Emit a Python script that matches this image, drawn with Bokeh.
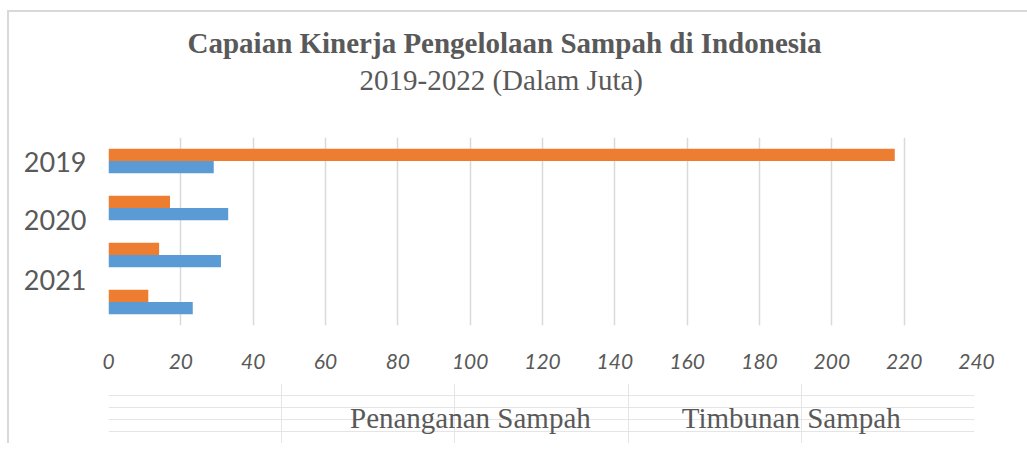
from bokeh.plotting import figure
from bokeh.layouts import column
from bokeh.models import (Range1d, FixedTicker, ColumnDataSource, Legend, LegendItem, Title)
from bokeh.embed import file_html
from bokeh.resources import INLINE
import numpy as np

# ---- data ----
years = ["2019", "2020", "2021", "2022"]
penanganan = [217.4, 17.0, 14.0, 11.0]   # Penanganan Sampah (juta)
timbunan = [29.1, 33.1, 31.1, 23.3]      # Timbunan Sampah (juta)
series_names = ["Penanganan Sampah", "Timbunan Sampah"]
y_tick_labels = ["2019", "2020", "2021"]
x_ticks = [0, 20, 40, 60, 80, 100, 120, 140, 160, 180, 200, 220, 240]

ORANGE = "#ED7D31"
BLUE = "#5B9BD5"
GREY_TXT = "#595959"
GRID = "#D9D9D9"
BOX_STYLE = {"margin-left": "7px", "border-left": "2px solid #D9D9D9"}

idx = np.arange(len(years)) + 0.5
src = ColumnDataSource(dict(
    year=years,
    y_pen=idx - 0.13,
    y_tim=idx + 0.13,
    pen=penanganan,
    tim=timbunan,
))

p = figure(frame_width=866, frame_height=186,
           x_range=Range1d(0, 240), y_range=Range1d(len(years), 0),
           output_backend="svg", toolbar_location=None, title=None,
           min_border_left=99, min_border_right=53,
           min_border_top=125, min_border_bottom=60)
p.styles = dict(BOX_STYLE, **{"margin-top": "10px", "border-top": "2px solid #D9D9D9"})
p.outline_line_color = None
p.background_fill_color = "white"
p.border_fill_color = "white"

p.hbar(y="y_pen", right="pen", left=0, height=0.265, source=src,
       fill_color=ORANGE, line_color=None)
p.hbar(y="y_tim", right="tim", left=0, height=0.265, source=src,
       fill_color=BLUE, line_color=None)

# x axis
xa = p.xaxis[0]
xa.ticker = FixedTicker(ticks=x_ticks)
xa.axis_line_color = None
xa.major_tick_line_color = None
xa.minor_tick_line_color = None
xa.major_label_text_font = "Lato"
xa.major_label_text_font_style = "italic"
xa.major_label_text_font_size = "21px"
xa.major_label_text_color = GREY_TXT
xa.major_label_standoff = 22

# y axis with (misaligned) labels as in the reference
ya = p.yaxis[0]
y_label_pos = [0.53, 1.75, 3.04]
ya.ticker = FixedTicker(ticks=y_label_pos)
ya.major_label_overrides = {pos: lab for pos, lab in zip(y_label_pos, y_tick_labels)}
ya.axis_line_color = None
ya.major_tick_line_color = None
ya.minor_tick_line_color = None
ya.major_label_text_font = "Lato"
ya.major_label_text_font_size = "27px"
ya.major_label_text_color = GREY_TXT
ya.major_label_standoff = 16

p.xgrid.grid_line_color = GRID
p.xgrid.grid_line_width = 1.5
p.ygrid.grid_line_color = None

# titles (spacer first, closest to the plot)
spacer = Title(text=" ", text_font="Liberation Serif", text_font_size="29px", standoff=6)
p.add_layout(spacer, "above")
sub = Title(text="2019-2022 (Dalam Juta)", align="left", offset=251,
            text_font="Liberation Serif", text_font_size="29px",
            text_font_style="normal", text_color=GREY_TXT, standoff=4)
p.add_layout(sub, "above")
main = Title(text="Capaian Kinerja Pengelolaan Sampah di Indonesia", align="left", offset=79,
             text_font="Liberation Serif", text_font_size="29px",
             text_font_style="bold", text_color=GREY_TXT, standoff=1)
p.add_layout(main, "above")

# legend strip below the chart
q = figure(width=1018, height=60, x_range=Range1d(0, 1), y_range=Range1d(0, 1),
           output_backend="svg", toolbar_location=None,
           x_axis_location=None, y_axis_location=None, min_border=0)
q.styles = BOX_STYLE
q.outline_line_color = None
q.background_fill_color = "white"
q.border_fill_color = "white"
q_pen = q.hbar(y=[], right=[], height=0.5, fill_color=ORANGE, line_color=None)
q_tim = q.hbar(y=[], right=[], height=0.5, fill_color=BLUE, line_color=None)

legend = Legend(items=[LegendItem(label=series_names[0], renderers=[q_pen]),
                       LegendItem(label=series_names[1], renderers=[q_tim])],
                orientation="horizontal", location=(219, 8),
                label_text_font="Liberation Serif", label_text_font_size="29px",
                label_text_color=GREY_TXT, glyph_width=17, glyph_height=16,
                label_standoff=6, spacing=68, padding=0, margin=0,
                border_line_color=None, background_fill_alpha=0)
q.add_layout(legend)

layout = column(p, q, spacing=0)
open("out.html", "w").write(file_html(layout, INLINE))
